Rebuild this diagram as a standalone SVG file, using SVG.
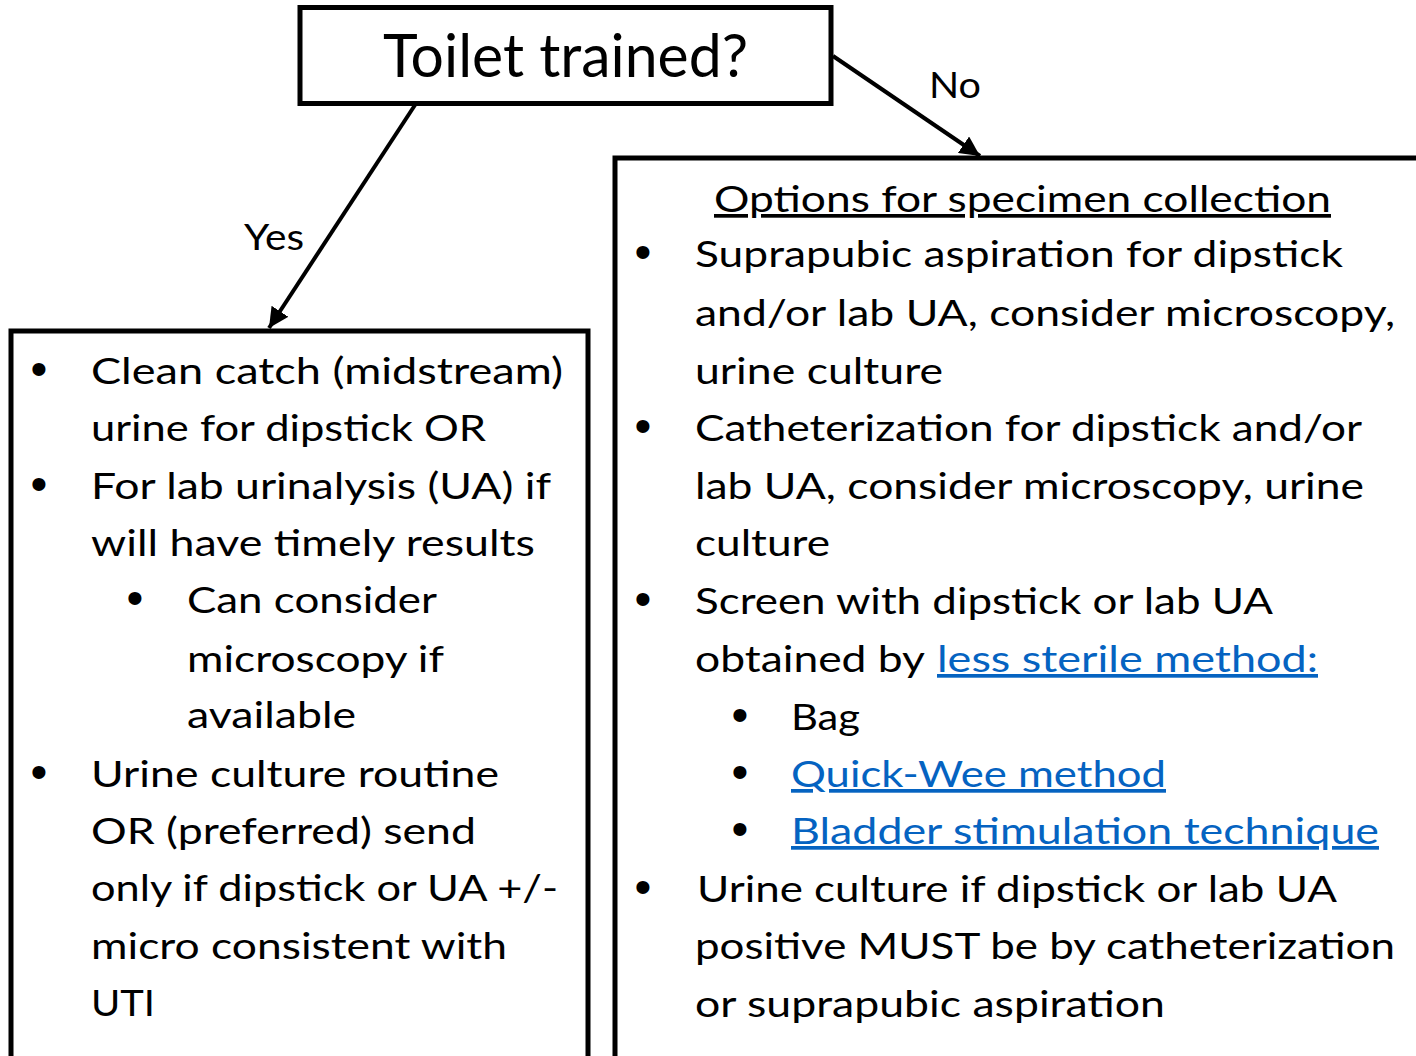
<svg xmlns="http://www.w3.org/2000/svg" width="1416" height="1056" viewBox="0 0 1416 1056">
<defs>
<style>
.box{fill:#fff;stroke:#000;stroke-width:5}
.conn{stroke:#000;stroke-width:4;fill:none}
.t{font-family:Lato,"Open Sans","Liberation Sans",sans-serif;font-size:37px;fill:#000}
.title{font-family:Lato,"Open Sans","Liberation Sans",sans-serif;font-size:60px;fill:#000}
.lab{font-family:Lato,"Open Sans","Liberation Sans",sans-serif;font-size:37px;fill:#000}
.b{font-family:"Liberation Sans",Arial,sans-serif;font-size:48px;fill:#000;text-anchor:middle}
.link{fill:#0563C1;text-decoration:underline}
.u{text-decoration:underline}
</style>
<marker id="ah" viewBox="0 0 10 10" refX="10" refY="5" markerWidth="5" markerHeight="5" markerUnits="strokeWidth" orient="auto">
<path d="M0,0 L10,5 L0,10 z" fill="#000"/>
</marker>
</defs>
<rect width="1416" height="1056" fill="#fff"/>
<g id="connectors">
<line class="conn" x1="415" y1="105" x2="269" y2="328" marker-end="url(#ah)"/>
<text class="lab" x="244" y="250" textLength="60" lengthAdjust="spacingAndGlyphs">Yes</text>
<line class="conn" x1="833" y1="56" x2="980" y2="156" marker-end="url(#ah)"/>
<text class="lab" x="929" y="98" textLength="52" lengthAdjust="spacingAndGlyphs">No</text>
</g>
<g id="node-toilet">
<rect class="box" x="300" y="7.5" width="531" height="96"/>
<text class="title" x="383" y="77" textLength="365" lengthAdjust="spacingAndGlyphs">Toilet trained?</text>
</g>
<g id="node-yes">
<rect class="box" x="11" y="331" width="577" height="800"/>
<text class="b" x="39" y="385">•</text>
<text class="t" x="91" y="384" textLength="472" lengthAdjust="spacingAndGlyphs">Clean catch (midstream)</text>
<text class="t" x="91" y="441" textLength="395" lengthAdjust="spacingAndGlyphs">urine for dipstick OR</text>
<text class="b" x="39" y="500">•</text>
<text class="t" x="91" y="499" textLength="460" lengthAdjust="spacingAndGlyphs">For lab urinalysis (UA) if</text>
<text class="t" x="91" y="556" textLength="444" lengthAdjust="spacingAndGlyphs">will have timely results</text>
<text class="b" x="135" y="614">•</text>
<text class="t" x="187" y="613" textLength="250" lengthAdjust="spacingAndGlyphs">Can consider</text>
<text class="t" x="187" y="672" textLength="257" lengthAdjust="spacingAndGlyphs">microscopy if</text>
<text class="t" x="187" y="728" textLength="169" lengthAdjust="spacingAndGlyphs">available</text>
<text class="b" x="39" y="788">•</text>
<text class="t" x="91" y="787" textLength="408" lengthAdjust="spacingAndGlyphs">Urine culture routine</text>
<text class="t" x="91" y="844" textLength="385" lengthAdjust="spacingAndGlyphs">OR (preferred) send</text>
<text class="t" x="91" y="901" textLength="467" lengthAdjust="spacingAndGlyphs">only if dipstick or UA +/-</text>
<text class="t" x="91" y="959" textLength="416" lengthAdjust="spacingAndGlyphs">micro consistent with</text>
<text class="t" x="91" y="1016" textLength="64" lengthAdjust="spacingAndGlyphs">UTI</text>
</g>
<g id="node-no">
<rect class="box" x="615" y="158" width="900" height="1000"/>
<text class="t u" x="714" y="212" textLength="617" lengthAdjust="spacingAndGlyphs">Options for specimen collection</text>
<text class="b" x="643" y="268">•</text>
<text class="t" x="695" y="267" textLength="648" lengthAdjust="spacingAndGlyphs">Suprapubic aspiration for dipstick</text>
<text class="t" x="695" y="326" textLength="700" lengthAdjust="spacingAndGlyphs">and/or lab UA, consider microscopy,</text>
<text class="t" x="695" y="384" textLength="248" lengthAdjust="spacingAndGlyphs">urine culture</text>
<text class="b" x="643" y="442">•</text>
<text class="t" x="695" y="441" textLength="667" lengthAdjust="spacingAndGlyphs">Catheterization for dipstick and/or</text>
<text class="t" x="695" y="499" textLength="669" lengthAdjust="spacingAndGlyphs">lab UA, consider microscopy, urine</text>
<text class="t" x="695" y="556" textLength="135" lengthAdjust="spacingAndGlyphs">culture</text>
<text class="b" x="643" y="615">•</text>
<text class="t" x="695" y="614" textLength="578" lengthAdjust="spacingAndGlyphs">Screen with dipstick or lab UA</text>
<text class="t" x="695" y="672" textLength="230" lengthAdjust="spacingAndGlyphs">obtained by</text>
<text class="t link" x="937" y="672" textLength="381" lengthAdjust="spacingAndGlyphs">less sterile method:</text>
<text class="b" x="740" y="731">•</text>
<text class="t" x="791" y="730" textLength="69" lengthAdjust="spacingAndGlyphs">Bag</text>
<text class="b" x="740" y="788">•</text>
<text class="t link" x="791" y="787" textLength="375" lengthAdjust="spacingAndGlyphs">Quick-Wee method</text>
<text class="b" x="740" y="845">•</text>
<text class="t link" x="791" y="844" textLength="588" lengthAdjust="spacingAndGlyphs">Bladder stimulation technique</text>
<text class="b" x="643" y="903">•</text>
<text class="t" x="697" y="902" textLength="640" lengthAdjust="spacingAndGlyphs">Urine culture if dipstick or lab UA</text>
<text class="t" x="695" y="959" textLength="700" lengthAdjust="spacingAndGlyphs">positive MUST be by catheterization</text>
<text class="t" x="695" y="1017" textLength="470" lengthAdjust="spacingAndGlyphs">or suprapubic aspiration</text>
</g>
</svg>
